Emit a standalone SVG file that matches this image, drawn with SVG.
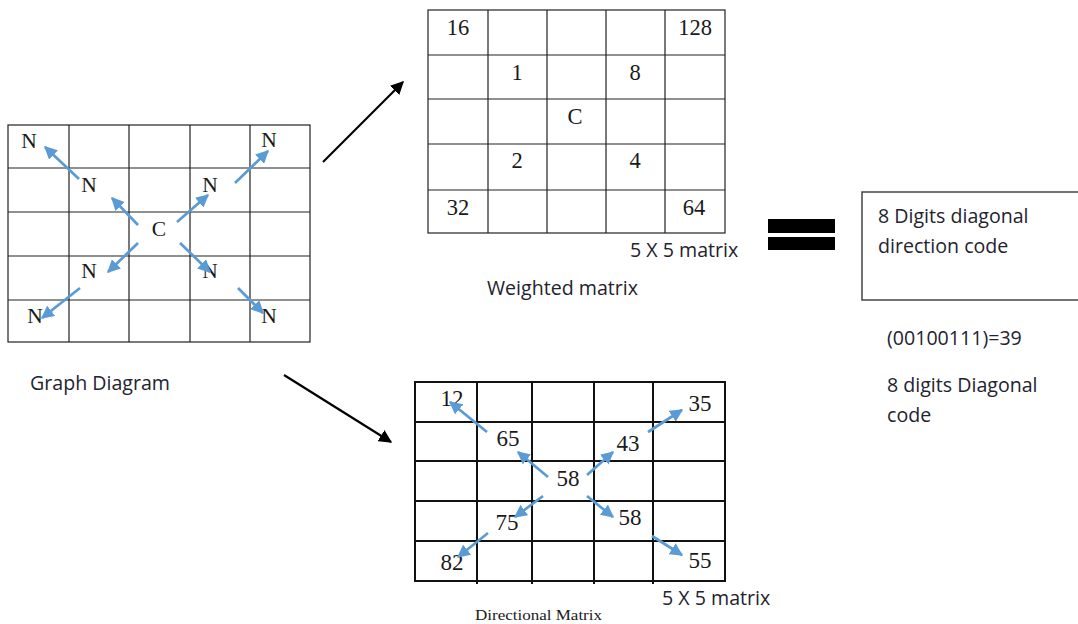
<svg xmlns="http://www.w3.org/2000/svg" width="1078" height="624" viewBox="0 0 1078 624">
<style>
.g1{fill:none;stroke:#222;stroke-width:1.2}
.g3{fill:none;stroke:#111;stroke-width:2}
.serif{font-family:"Liberation Serif","Times New Roman",serif;fill:#1a1a1a}
.cal{font-family:"Open Sans",Lato,"Liberation Sans",sans-serif;fill:#23232e;font-size:19.6px}
.blue{stroke:#5b9bd5;stroke-width:2.7;fill:none;marker-end:url(#bh)}
.black{stroke:#000;stroke-width:2.2;fill:none;marker-end:url(#kh)}
</style>
<defs>
<marker id="bh" viewBox="0 0 10 10" refX="9" refY="5" markerWidth="4.8" markerHeight="4.8" orient="auto" markerUnits="strokeWidth">
<path d="M0,0 L10,5 L0,10 Z" fill="#5b9bd5"/>
</marker>
<marker id="kh" viewBox="0 0 10 10" refX="9" refY="5" markerWidth="6" markerHeight="6" orient="auto" markerUnits="strokeWidth">
<path d="M0,0 L10,5 L0,10 Z" fill="#000"/>
</marker>
</defs>
<rect width="1078" height="624" fill="#fff"/>

<g id="graph-diagram">
<rect class="g1" x="8" y="125" width="302" height="217"/>
<path class="g1" d="M69,125V342M129,125V342M190,125V342M250,125V342M8,168H310M8,212H310M8,256H310M8,300H310"/>
<g class="serif" font-size="21.5" text-anchor="middle">
<text x="29" y="148">N</text>
<text x="89" y="192">N</text>
<text x="210" y="192">N</text>
<text x="269" y="147">N</text>
<text x="159" y="236">C</text>
<text x="89" y="278">N</text>
<text x="210" y="278">N</text>
<text x="35" y="323">N</text>
<text x="269" y="323">N</text>
</g>
<text class="cal" x="30" y="390">Graph Diagram</text>
</g>

<g id="weighted-matrix">
<rect class="g1" x="428" y="10" width="297" height="223"/>
<path class="g1" d="M488,10V233M547,10V233M606,10V233M665,10V233M428,55H725M428,99H725M428,144H725M428,190H725"/>
<g class="serif" font-size="22.5" text-anchor="middle">
<text x="458" y="35">16</text>
<text x="695" y="35">128</text>
<text x="517" y="80">1</text>
<text x="635" y="80">8</text>
<text x="575" y="124">C</text>
<text x="517" y="168">2</text>
<text x="635" y="168">4</text>
<text x="458" y="215">32</text>
<text x="694" y="215">64</text>
</g>
<text class="cal" x="630" y="257">5 X 5 matrix</text>
<text class="cal" x="487" y="295">Weighted matrix</text>
</g>

<g id="directional-matrix">
<rect class="g3" x="415" y="382" width="310" height="199"/>
<path class="g3" d="M477,382V584M532,382V584M594,382V584M653,382V584M415,422H725M415,461H725M415,501H725M415,541H725"/>
<g class="serif" font-size="23" text-anchor="middle">
<text x="452" y="406">12</text>
<text x="700" y="411">35</text>
<text x="508" y="446">65</text>
<text x="628" y="451">43</text>
<text x="568" y="486">58</text>
<text x="507" y="530">75</text>
<text x="630" y="525">58</text>
<text x="452" y="570">82</text>
<text x="700" y="568">55</text>
</g>
<text class="cal" x="662" y="605">5 X 5 matrix</text>
<text class="serif" x="475" y="620" font-size="14.5" textLength="127" lengthAdjust="spacingAndGlyphs">Directional Matrix</text>
</g>

<g id="equals">
<rect x="768" y="219" width="67" height="14" fill="#000"/>
<rect x="768" y="237" width="67" height="13" fill="#000"/>
</g>

<g id="code-box">
<rect x="862" y="192" width="230" height="108" fill="#fff" stroke="#444" stroke-width="1.5"/>
<text class="cal" x="878" y="223">8 Digits diagonal</text>
<text class="cal" x="878" y="253">direction code</text>
</g>

<g id="code-value">
<text class="cal" x="887" y="345">(00100111)=39</text>
<text class="cal" x="887" y="392">8 digits Diagonal</text>
<text class="cal" x="887" y="422">code</text>
</g>

<g id="connectors">
<line class="black" x1="323" y1="162" x2="403" y2="82"/>
<line class="black" x1="284" y1="375" x2="391" y2="442"/>
<line class="blue" x1="138" y1="225" x2="112" y2="198"/>
<line class="blue" x1="79" y1="179" x2="45" y2="147"/>
<line class="blue" x1="177" y1="222" x2="208" y2="195"/>
<line class="blue" x1="235" y1="183" x2="268" y2="151"/>
<line class="blue" x1="138" y1="243" x2="108" y2="272"/>
<line class="blue" x1="80" y1="288" x2="42" y2="318"/>
<line class="blue" x1="180" y1="243" x2="210" y2="272"/>
<line class="blue" x1="238" y1="288" x2="263" y2="313"/>
<line class="blue" x1="487" y1="432" x2="450" y2="402"/>
<line class="blue" x1="548" y1="477" x2="518" y2="452"/>
<line class="blue" x1="587" y1="475" x2="613" y2="452"/>
<line class="blue" x1="648" y1="432" x2="682" y2="410"/>
<line class="blue" x1="543" y1="496" x2="515" y2="517"/>
<line class="blue" x1="488" y1="533" x2="458" y2="557"/>
<line class="blue" x1="587" y1="496" x2="613" y2="517"/>
<line class="blue" x1="652" y1="536" x2="682" y2="555"/>
</g>
</svg>
